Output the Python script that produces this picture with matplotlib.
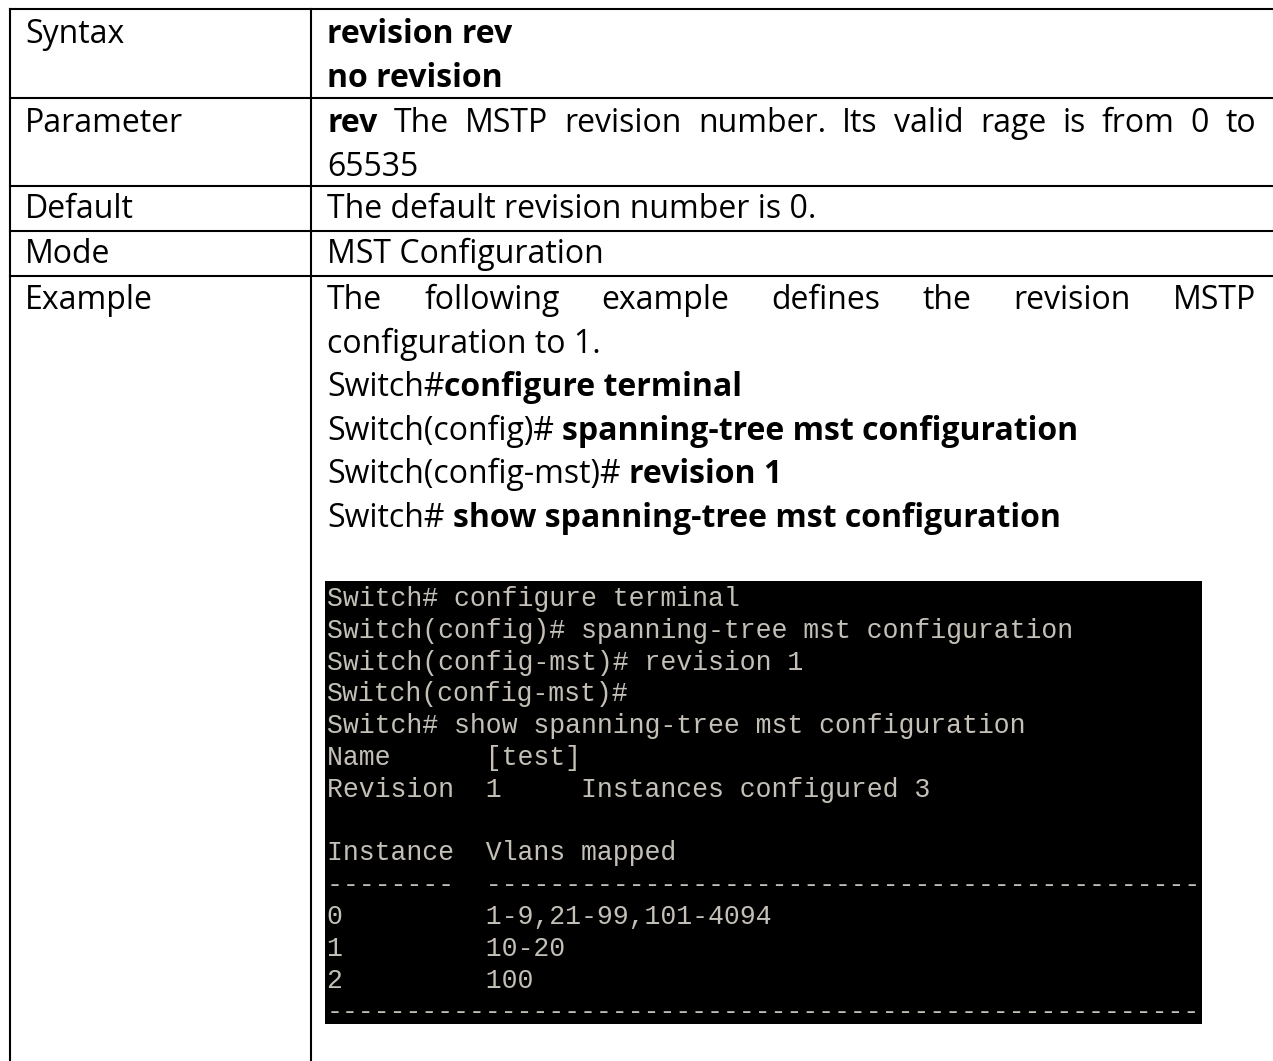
import matplotlib
matplotlib.use("Agg")
import matplotlib.pyplot as plt
from matplotlib.patches import Rectangle
from matplotlib.transforms import Bbox, TransformedBbox

# table content
row_labels = ["Syntax", "Parameter", "Default", "Mode", "Example"]
syntax_lines = ["revision rev", "no revision"]
param_words = [("rev", True), ("The", False), ("MSTP", False), ("revision", False),
               ("number.", False), ("Its", False), ("valid", False), ("rage", False),
               ("is", False), ("from", False), ("0", False), ("to", False)]
param_tail = "65535"
default_text = "The default revision number is 0."
mode_text = "MST Configuration"
example_words = ["The", "following", "example", "defines", "the", "revision", "MSTP"]
example_lines = [
    [("configuration to 1.", False)],
    [("Switch#", False), ("configure terminal", True)],
    [("Switch(config)# ", False), ("spanning-tree mst configuration", True)],
    [("Switch(config-mst)# ", False), ("revision 1", True)],
    [("Switch# ", False), ("show spanning-tree mst configuration", True)],
]
terminal_lines = [
    "Switch# configure terminal",
    "Switch(config)# spanning-tree mst configuration",
    "Switch(config-mst)# revision 1",
    "Switch(config-mst)#",
    "Switch# show spanning-tree mst configuration",
    "Name      [test]",
    "Revision  1     Instances configured 3",
    "",
    "Instance  Vlans mapped",
    "--------  " + "-" * 60,
    "0         1-9,21-99,101-4094",
    "1         10-20",
    "2         100",
    "-" * 70,
]

# layout (pixels)
W, H = 1273, 1061
left_x, div_x, right_x = 10, 311, 1273
row_y = [9, 98, 186, 231, 276]
lab_x, cx, just_r = 25, 327, 1256
fs = 23
line_h = 43.6
term_box = (325, 581, 1202, 1024)

fig = plt.figure(figsize=(W / 100, H / 100), dpi=100)
ax = fig.add_axes([0, 0, 1, 1])
ax.set_xlim(0, W)
ax.set_ylim(H, 0)
ax.axis("off")
renderer = fig.canvas.get_renderer()

FONT = "Open Sans"


def put(x, y, s, bold=False, **kw):
    return ax.text(x, y, s, fontsize=fs, family=FONT, va="baseline",
                   fontweight="bold" if bold else "normal", color="black", **kw)


def width(t):
    return t.get_window_extent(renderer).width


def space_w(bold=False):
    a = put(-500, -500, "aa", bold)
    b = put(-500, -500, "a a", bold)
    w = width(b) - width(a)
    a.remove()
    b.remove()
    return w


def runs(x, y, parts):
    for s, b in parts:
        trail = s.endswith(" ")
        t = put(x, y, s.rstrip(), b)
        x += width(t) + (space_w(b) if trail else 0)


def justify(x0, x1, y, words):
    texts = [put(0, y, w, b) for w, b in words]
    ws = [width(t) for t in texts]
    gap = (x1 - x0 - sum(ws)) / (len(words) - 1)
    x = x0
    for t, w in zip(texts, ws):
        t.set_x(x)
        x += w + gap


# grid lines (no right / bottom border in the source)
lw = 1.5
for y in row_y:
    ax.plot([left_x, right_x], [y, y], color="black", lw=lw, solid_capstyle="projecting")
for x in (left_x, div_x):
    ax.plot([x, x], [row_y[0], H], color="black", lw=lw, solid_capstyle="projecting")

# left column
label_base = [43, 132, 218, 263, 309]
for lab, yb in zip(row_labels, label_base):
    put(lab_x, yb, lab)

# right column
put(cx, 43, syntax_lines[0], True)
put(cx, 43 + line_h, syntax_lines[1], True)
justify(cx, just_r, 132, param_words)
put(cx, 132 + line_h, param_tail)
put(cx, 218, default_text)
put(cx, 263, mode_text)
justify(cx, just_r, 309, [(w, False) for w in example_words])
for i, parts in enumerate(example_lines):
    runs(cx, 309 + line_h * (i + 1), parts)

# terminal screenshot
x0, y0, x1, y1 = term_box
rect = Rectangle((x0, y0), x1 - x0, y1 - y0, facecolor="black", edgecolor="none")
ax.add_patch(rect)
clip = TransformedBbox(Bbox([[x0, y0], [x1, y1]]), ax.transData)
for i, line in enumerate(terminal_lines):
    if not line:
        continue
    t = ax.text(x0 + 2, 606 + 31.8 * i, line, fontsize=19.1, family="Liberation Mono",
                va="baseline", color="#c4c0b8", clip_on=True)
    t.set_clip_path(None)
    t.set_clip_box(clip)

fig.savefig("out.png", dpi=100)
